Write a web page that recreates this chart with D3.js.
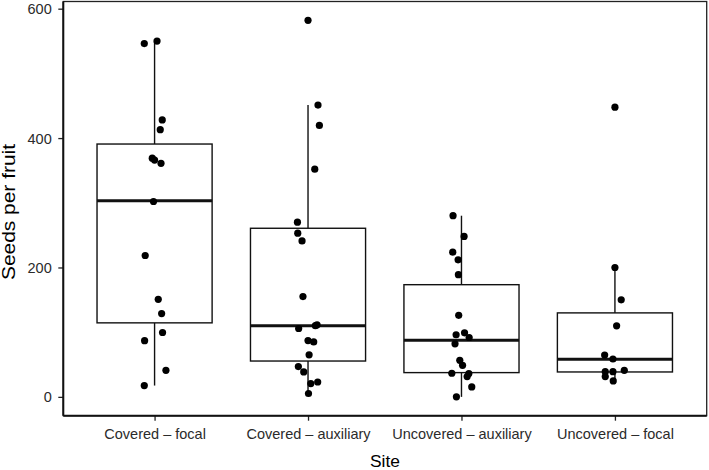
<!DOCTYPE html>
<html>
<head>
<meta charset="utf-8">
<script src="https://cdn.jsdelivr.net/npm/d3@7"></script>
<style>
  body { margin: 0; background: #fff; }
  svg { display: block; }
</style>
</head>
<body>
<div id="chart"></div>
<script>
// sites along the x axis
const sites = ["Covered – focal", "Covered – auxiliary", "Uncovered – auxiliary", "Uncovered – focal"]
const yTicks = [0, 200, 400, 600]

// box statistics
const lowerHinge = [114.4, 55.4, 37.5, 38.5]
const median = [303, 109.8, 87.7, 58]
const upperHinge = [390.8, 260.6, 173.4, 129.8]
const whiskerLow = [17.5, 5.2, 0, 24.6]
const whiskerHigh = [550, 451, 280, 200]

// seeds per fruit, one array per site
const seeds = [
    [546, 550, 428, 413, 369, 366, 361, 302, 218.5, 150.8, 128.8, 99.5, 86.8, 41, 17.5],
    [582, 451, 419.5, 352, 270, 253, 241, 155, 111.4, 110, 105.7, 87, 85, 65, 46.8, 38.5, 23, 20.6, 5.2],
    [280, 248, 223.7, 211.8, 188.8, 126, 99, 96, 91.8, 82, 56.5, 48.8, 36.5, 36, 31.4, 15.4, 0],
    [447.7, 200, 150, 109.8, 64.7, 58.5, 41, 39, 39, 31.4, 24.6]
]
// horizontal jitter of each point, in units of one category step
const jitter = [
    [-0.067, 0.016, 0.050, 0.037, -0.015, 0.0, 0.042, -0.007, -0.061, 0.024, 0.046, 0.052, -0.065, 0.074, -0.067],
    [0.0, 0.065, 0.074, 0.044, -0.069, -0.067, -0.039, -0.033, 0.059, 0.048, -0.061, 0.0, 0.037, 0.007, -0.063, -0.028, 0.063, 0.018, 0.003],
    [-0.055, 0.017, -0.057, -0.022, -0.020, -0.018, 0.020, -0.035, 0.050, -0.042, -0.011, 0.007, -0.063, 0.048, 0.037, 0.067, -0.033],
    [0.0, 0.0, 0.041, 0.011, -0.067, -0.013, 0.061, -0.063, -0.013, -0.063, -0.011]
]

const width = 709, height = 470
const panel = { left: 63.3, right: 706.7, top: 1.5, bottom: 415.7 }
const font = "'Liberation Sans', Arial, Helvetica, sans-serif"

const svg = d3.select("#chart").append("svg")
    .attr("width", width)
    .attr("height", height)

const x = d3.scalePoint()
    .domain(sites)
    .range([62.5, 707])
    .padding(0.6)

const y = d3.scaleLinear()
    .domain([-29.1, 611.1])
    .range([panel.bottom, panel.top])

const boxW = x.step() * 0.75

// panel border
svg.append("rect")
    .attr("x", panel.left)
    .attr("y", panel.top)
    .attr("width", panel.right - panel.left)
    .attr("height", panel.bottom - panel.top)
    .attr("fill", "#fff")
    .attr("stroke", "#222")
    .attr("stroke-width", 1.3)

// boxes
const boxes = svg.append("g")
    .selectAll("g")
    .data(sites)
    .join("g")

boxes.append("line")
    .attr("x1", d => x(d)).attr("x2", d => x(d))
    .attr("y1", (d, i) => y(whiskerHigh[i]))
    .attr("y2", (d, i) => y(upperHinge[i]))
    .attr("stroke", "#111").attr("stroke-width", 1.4)

boxes.append("line")
    .attr("x1", d => x(d)).attr("x2", d => x(d))
    .attr("y1", (d, i) => y(lowerHinge[i]))
    .attr("y2", (d, i) => y(whiskerLow[i]))
    .attr("stroke", "#111").attr("stroke-width", 1.4)

boxes.append("rect")
    .attr("x", d => x(d) - boxW / 2)
    .attr("width", boxW)
    .attr("y", (d, i) => y(upperHinge[i]))
    .attr("height", (d, i) => y(lowerHinge[i]) - y(upperHinge[i]))
    .attr("fill", "#fff")
    .attr("stroke", "#111")
    .attr("stroke-width", 1.4)

boxes.append("line")
    .attr("x1", d => x(d) - boxW / 2)
    .attr("x2", d => x(d) + boxW / 2)
    .attr("y1", (d, i) => y(median[i]))
    .attr("y2", (d, i) => y(median[i]))
    .attr("stroke", "#111")
    .attr("stroke-width", 3)

// jittered points
const points = []
sites.forEach((s, i) => {
    seeds[i].forEach((v, j) => points.push({ site: s, value: v, dx: jitter[i][j] }))
})

svg.append("g")
    .selectAll("circle")
    .data(points)
    .join("circle")
    .attr("cx", d => x(d.site) + d.dx * x.step())
    .attr("cy", d => y(d.value))
    .attr("r", 3.6)
    .attr("fill", "#000")

// axes
const yAxis = svg.append("g")
    .attr("transform", `translate(${panel.left},0)`)
    .call(d3.axisLeft(y).tickValues(yTicks).tickSize(5).tickSizeOuter(0))

yAxis.select(".domain").remove()
yAxis.selectAll(".tick line").attr("stroke", "#222").attr("stroke-width", 1.3)
yAxis.selectAll(".tick text")
    .attr("x", -11.6)
    .attr("dy", "0.35em")
    .attr("fill", "#2b2b2b")
    .style("font-family", font)
    .style("font-size", "14.5px")

const xAxis = svg.append("g")
    .attr("transform", `translate(0,${panel.bottom})`)
    .call(d3.axisBottom(x).tickSize(5).tickSizeOuter(0))

xAxis.select(".domain").remove()
xAxis.selectAll(".tick line").attr("stroke", "#222").attr("stroke-width", 1.3)
xAxis.selectAll(".tick text")
    .attr("y", 23.8)
    .attr("dy", 0)
    .attr("fill", "#2b2b2b")
    .style("font-family", font)
    .style("font-size", "14.5px")

// axis lines, a bit heavier than the border
svg.append("line")
    .attr("x1", panel.left).attr("x2", panel.left)
    .attr("y1", panel.top).attr("y2", panel.bottom)
    .attr("stroke", "#111").attr("stroke-width", 2)
svg.append("line")
    .attr("x1", panel.left).attr("x2", panel.right)
    .attr("y1", panel.bottom).attr("y2", panel.bottom)
    .attr("stroke", "#111").attr("stroke-width", 2)

// titles
svg.append("text")
    .attr("x", (panel.left + panel.right) / 2)
    .attr("y", 467)
    .attr("text-anchor", "middle")
    .style("font-family", font)
    .style("font-size", "17.4px")
    .text("Site")

svg.append("text")
    .attr("transform", `translate(15,212) rotate(-90)`)
    .attr("text-anchor", "middle")
    .attr("textLength", 136)
    .attr("lengthAdjust", "spacingAndGlyphs")
    .style("font-family", font)
    .style("font-size", "18px")
    .text("Seeds per fruit")
</script>
</body>
</html>
